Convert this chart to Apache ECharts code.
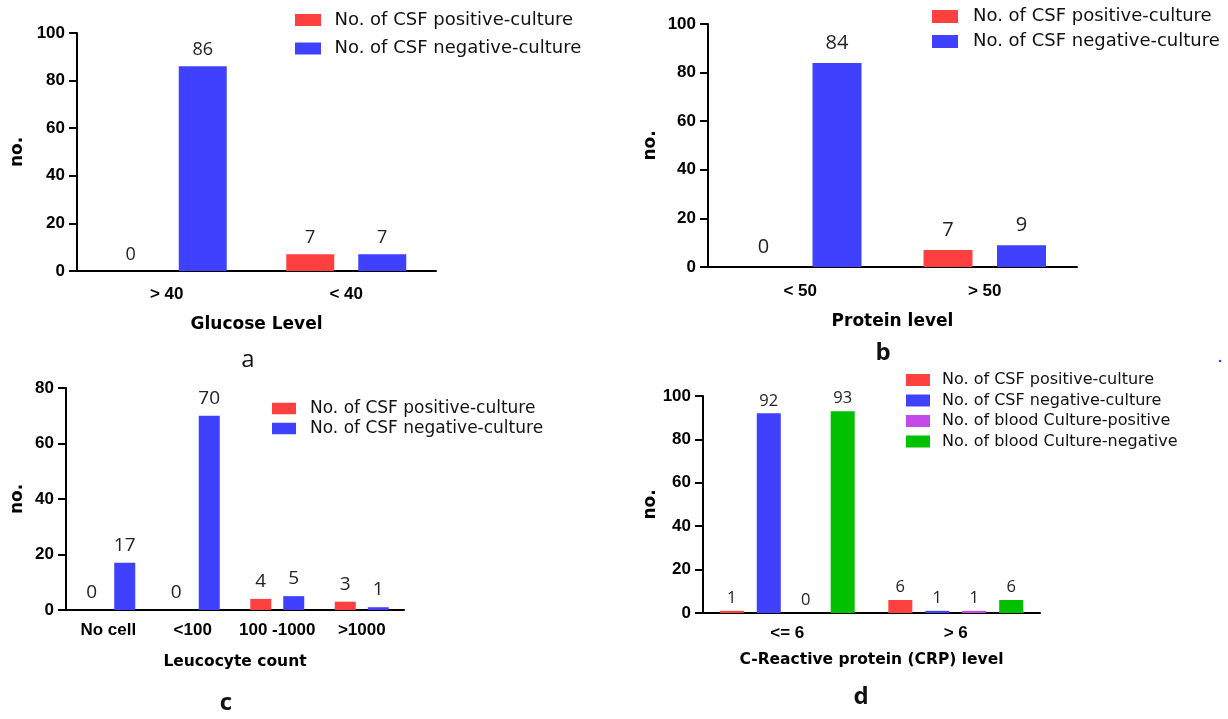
<!DOCTYPE html>
<html>
<head>
<meta charset="utf-8">
<script src="https://cdn.jsdelivr.net/npm/echarts@6/dist/echarts.min.js"></script>
<style>
html,body{margin:0;padding:0;background:#fff;}
#main{width:1228px;height:719px;}
</style>
</head>
<body>
<div id="main"></div>
<script>
// ---- Data ----
const seriesNames = ['No. of CSF positive-culture', 'No. of CSF negative-culture', 'No. of blood Culture-positive', 'No. of blood Culture-negative'];
const seriesColors = ['#ff4040', '#4040ff', '#c44ae8', '#00c000'];

const glucoseCategories = ['> 40', '< 40'];
const glucoseCsfPositive = [0, 7];
const glucoseCsfNegative = [86, 7];

const proteinCategories = ['< 50', '> 50'];
const proteinCsfPositive = [0, 7];
const proteinCsfNegative = [84, 9];

const leucocyteCategories = ['No cell', '<100', '100 -1000', '>1000'];
const leucocyteCsfPositive = [0, 0, 4, 3];
const leucocyteCsfNegative = [17, 70, 5, 1];

const crpCategories = ['<= 6', '> 6'];
const crpCsfPositive = [1, 6];
const crpCsfNegative = [92, 1];
const crpBloodPositive = [0, 1];
const crpBloodNegative = [93, 6];

const yTicksABD = {min: 0, max: 100, interval: 20};
const yTicksC = {min: 0, max: 80, interval: 20};

// ---- Panel layout ----
const panels = [
  {grid: {left: 77, top: 33, width: 359, height: 238}, cats: glucoseCategories, data: [glucoseCsfPositive, glucoseCsfNegative],
   y: yTicksABD, xName: 'Glucose Level', xNameSize: 17, xNameGap: 45, yNameGap: 51, barWidth: 48, barGap: '50%',
   labelSize: 18, labelDist: 7, labelMargin: 15,
   legend: {left: 295, top: 10, itemWidth: 26, itemHeight: 12, fontSize: 18, lineHeight: 20, itemGap: 8.5, pad: 8.5}},
  {grid: {left: 708, top: 24, width: 369, height: 243}, cats: proteinCategories, data: [proteinCsfPositive, proteinCsfNegative],
   y: yTicksABD, xName: 'Protein level', xNameSize: 17, xNameGap: 46, yNameGap: 49, barWidth: 49, barGap: '50%',
   labelSize: 20, labelDist: 10, labelMargin: 16,
   legend: {left: 932, top: 6.5, itemWidth: 26, itemHeight: 13, fontSize: 18, lineHeight: 20, itemGap: 5, pad: 10}},
  {grid: {left: 66, top: 388, width: 338, height: 222}, cats: leucocyteCategories, data: [leucocyteCsfPositive, leucocyteCsfNegative],
   y: yTicksC, xName: 'Leucocyte count', xNameSize: 15.5, xNameGap: 44, yNameGap: 40, barWidth: 21, barGap: '57%',
   labelSize: 19, labelDist: 8, labelMargin: 12,
   legend: {left: 272, top: 399.5, itemWidth: 24, itemHeight: 11.5, fontSize: 17, lineHeight: 18, itemGap: 2, pad: 9}},
  {grid: {left: 703, top: 396, width: 337, height: 217}, cats: crpCategories, data: [crpCsfPositive, crpCsfNegative, crpBloodPositive, crpBloodNegative],
   y: yTicksABD, xName: 'C-Reactive protein (CRP) level', xNameSize: 15.5, xNameGap: 39, yNameGap: 33, barWidth: 24, barGap: '54%',
   labelSize: 16.5, labelDist: 4, labelMargin: 12,
   legend: {left: 906, top: 371, itemWidth: 24, itemHeight: 12, fontSize: 16, lineHeight: 18, itemGap: 2.5, pad: 7}}
];

const grids = [], xAxes = [], yAxes = [], series = [], legends = [];
const axisLineStyle = {color: '#000', width: 2};
const tickFont = {color: '#000', fontFamily: 'Liberation Sans', fontWeight: 'bold', fontSize: 17};
panels.forEach((p, i) => {
  grids.push(Object.assign({containLabel: false}, p.grid));
  xAxes.push({
    type: 'category', gridIndex: i, data: p.cats,
    axisLine: {lineStyle: axisLineStyle},
    axisTick: {alignWithLabel: true, length: 9, lineStyle: {color: '#000', width: 2}},
    axisLabel: Object.assign({interval: 0, margin: p.labelMargin}, tickFont),
    name: p.xName, nameLocation: 'middle', nameGap: p.xNameGap,
    nameTextStyle: {color: '#000', fontFamily: 'DejaVu Sans', fontWeight: 'bold', fontSize: p.xNameSize}
  });
  yAxes.push({
    type: 'value', gridIndex: i, min: p.y.min, max: p.y.max, interval: p.y.interval,
    axisLine: {show: true, lineStyle: axisLineStyle},
    axisTick: {show: true, length: 8, lineStyle: {color: '#000', width: 2}},
    splitLine: {show: false},
    axisLabel: Object.assign({margin: 12}, tickFont),
    name: 'no.', nameLocation: 'middle', nameGap: p.yNameGap,
    nameTextStyle: {color: '#000', fontFamily: 'DejaVu Sans', fontWeight: 'bold', fontSize: 17}
  });
  const names = [];
  p.data.forEach((vals, k) => {
    names.push(seriesNames[k]);
    series.push({
      type: 'bar', name: seriesNames[k], xAxisIndex: i, yAxisIndex: i, data: vals,
      barWidth: p.barWidth, barGap: p.barGap,
      itemStyle: {color: seriesColors[k]},
      label: {show: true, position: 'top', distance: p.labelDist, color: '#222',
              fontFamily: 'Open Sans', fontSize: p.labelSize},
      silent: true
    });
  });
  legends.push({
    orient: 'vertical', left: p.legend.left, top: p.legend.top, padding: 0,
    itemWidth: p.legend.itemWidth, itemHeight: p.legend.itemHeight, itemGap: p.legend.itemGap,
    icon: 'rect', data: names, selectedMode: false,
    textStyle: {color: '#111', fontFamily: 'DejaVu Sans', fontSize: p.legend.fontSize,
                lineHeight: p.legend.lineHeight, padding: [0, 0, 0, p.legend.pad]}
  });
});

const panelLetters = [
  {t: 'a', x: 248, y: 360, w: 'normal'},
  {t: 'b', x: 883, y: 353, w: 'bold'},
  {t: 'c', x: 226, y: 703, w: 'bold'},
  {t: 'd', x: 861, y: 697, w: 'bold'}
];

const graphics = panelLetters.map(l => ({
  type: 'text', x: l.x, y: l.y,
  style: {text: l.t, fill: '#111', font: l.w + ' 24px "Open Sans"', textAlign: 'center', textVerticalAlign: 'middle'}
}));
// small stray blue dot present in the source figure
graphics.push({type: 'circle', shape: {cx: 1220, cy: 361, r: 1.3}, style: {fill: '#4040ff'}});

const chart = echarts.init(document.getElementById('main'), null, {renderer: 'canvas'});
chart.setOption({
  backgroundColor: '#fff',
  animation: false,
  grid: grids, xAxis: xAxes, yAxis: yAxes, series: series, legend: legends,
  graphic: graphics
});
</script>
</body>
</html>
